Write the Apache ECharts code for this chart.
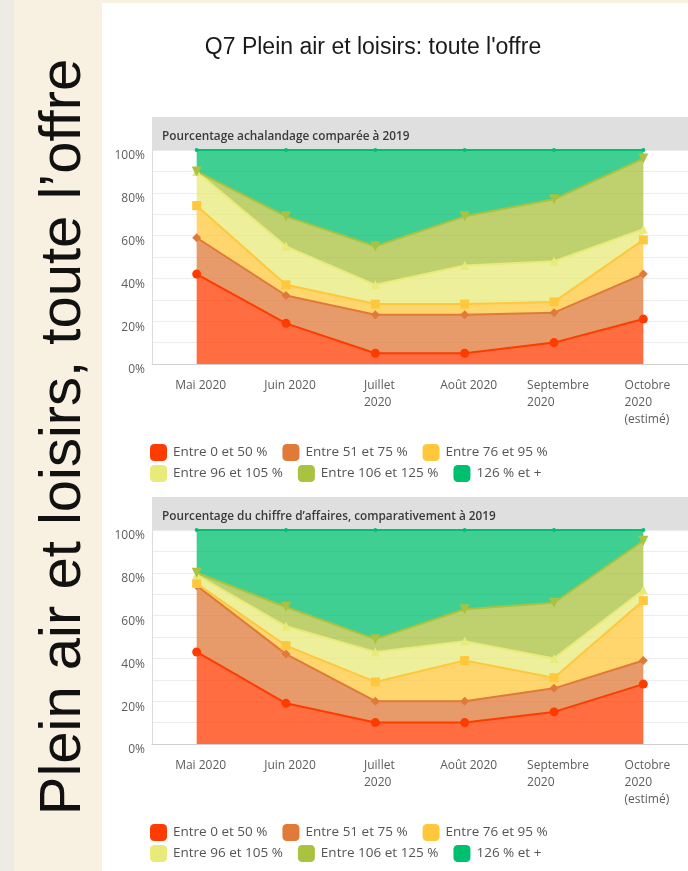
<!DOCTYPE html>
<html lang="fr">
<head>
<meta charset="utf-8">
<title>Q7 Plein air et loisirs: toute l'offre</title>
<script src="https://cdn.jsdelivr.net/npm/echarts@6/dist/echarts.min.js"></script>
<style>
  html, body { margin: 0; padding: 0; background: #f8f1e2; }
  #chart { width: 688px; height: 871px; }
</style>
</head>
<body>
<div id="chart"></div>
<script>
// Mois de la période observée
const categories = ['Mai 2020', 'Juin 2020', 'Juillet\n2020', 'Août 2020', 'Septembre\n2020', 'Octobre\n2020\n(estimé)'];

// Tranches de comparaison avec 2019
const bandNames = ['Entre 0 et 50 %', 'Entre 51 et 75 %', 'Entre 76 et 95 %', 'Entre 96 et 105 %', 'Entre 106 et 125 %', '126 % et +'];

// Pourcentage achalandage comparée à 2019 (part des répondants, %)
const achal0to50    = [42, 19, 5, 5, 10, 21];
const achal51to75   = [17, 13, 18, 18, 14, 21];
const achal76to95   = [15, 5, 5, 5, 5, 16];
const achal96to105  = [16, 18, 9, 18, 19, 5];
const achal106to125 = [0, 14, 18, 23, 29, 33];
const achal126plus  = [10, 31, 45, 31, 23, 4];

// Pourcentage du chiffre d'affaires, comparativement à 2019 (part des répondants, %)
const ca0to50    = [43, 19, 10, 10, 15, 28];
const ca51to75   = [31, 23, 10, 10, 11, 11];
const ca76to95   = [1, 4, 9, 19, 5, 28];
const ca96to105  = [4, 9, 14, 9, 9, 5];
const ca106to125 = [1, 9, 6, 15, 26, 23];
const ca126plus  = [20, 36, 51, 37, 34, 5];

// Graduations de l'axe des pourcentages
const yTicks = [0, 20, 40, 60, 80, 100];

const achalSeries = [achal0to50, achal51to75, achal76to95, achal96to105, achal106to125, achal126plus];
const caSeries = [ca0to50, ca51to75, ca76to95, ca96to105, ca106to125, ca126plus];

const bandColors = ['#ff3c00', '#e07a38', '#ffc83c', '#e8ea7a', '#a9c23f', '#00bf6f'];
const bandSymbols = ['circle', 'diamond', 'rect', 'triangle', 'triangle', 'circle'];
const bandSymbolRotate = [0, 0, 0, 0, 180, 0];
const bandSymbolSize = [9, 9, 9, 9, 10, 4];

const FONT = 'Open Sans';
const PLOT_LEFT = 152;
const PLOT_H = 214;
const panels = [
  { top: 150, header: 'Pourcentage achalandage comparée à 2019', data: achalSeries },
  { top: 530, header: 'Pourcentage du chiffre d’affaires, comparativement à 2019', data: caSeries }
];

const chart = echarts.init(document.getElementById('chart'), null, { renderer: 'canvas' });

const grids = [], xAxes = [], yAxes = [], series = [], legends = [], titles = [], graphics = [];

// Fond : bande grise, panneau crème et zone blanche
graphics.push(
  { type: 'rect', left: 0, top: 0, shape: { width: 14, height: 871 }, style: { fill: '#eeebe4' }, silent: true, z: -10 },
  { type: 'rect', left: 102, top: 3, shape: { width: 586, height: 868 }, style: { fill: '#ffffff' }, silent: true, z: -10 },
  {
    type: 'text', x: 64, y: 437, rotation: Math.PI / 2,
    style: {
      text: 'Plein air et loisirs, toute l’offre',
      font: '58px "Liberation Sans", Arial, sans-serif',
      fill: '#111111', textAlign: 'center', textVerticalAlign: 'middle'
    },
    silent: true
  }
);

titles.push({
  text: "Q7 Plein air et loisirs: toute l'offre",
  left: 368, top: 31, textAlign: 'center',
  textStyle: { fontFamily: '"Liberation Sans", Arial, sans-serif', fontSize: 23, fontWeight: 'normal', color: '#1a1a1a' }
});

panels.forEach((p, gi) => {
  // Bandeau gris de l'en-tête du graphique
  graphics.push({
    type: 'rect', left: PLOT_LEFT, top: p.top - 33,
    shape: { width: 536, height: 34 }, style: { fill: '#dfdfdf' }, silent: true, z: -5
  });
  titles.push({
    text: p.header, left: 157, top: p.top - 24,
    textStyle: { fontFamily: FONT, fontSize: 11.8, fontWeight: 600, color: '#3a3a3a' }
  });

  grids.push({ left: PLOT_LEFT, top: p.top, width: 536, height: PLOT_H, containLabel: false });

  xAxes.push({
    type: 'category', gridIndex: gi, data: categories, boundaryGap: true,
    axisTick: { show: false },
    axisLine: { lineStyle: { color: '#cfcfcf', width: 1 } },
    axisLabel: {
      interval: 0, margin: 13, color: '#5c5c5c',
      fontFamily: FONT, fontSize: 12, lineHeight: 17,
      padding: [0, 0, 0, 8],
      formatter: v => v.split('\n').map(s => '{l|' + s + '}').join('\n'),
      rich: { l: { align: 'left', fontFamily: FONT, fontSize: 12, lineHeight: 17, color: '#5c5c5c' } }
    }
  });

  yAxes.push({
    type: 'value', gridIndex: gi, min: 0, max: 100, interval: 10,
    axisLine: { show: true, lineStyle: { color: '#dcdcdc' } },
    axisTick: { show: false },
    splitLine: { lineStyle: { color: '#ececec', width: 1 } },
    axisLabel: {
      margin: 7, color: '#5c5c5c', fontFamily: FONT, fontSize: 12,
      verticalAlign: 'top',
      formatter: v => (yTicks.indexOf(v) >= 0 ? v + '%' : '')
    }
  });

  p.data.forEach((values, si) => {
    series.push({
      name: bandNames[si], type: 'line', xAxisIndex: gi, yAxisIndex: gi,
      stack: 'total' + gi, data: values,
      symbol: bandSymbols[si], symbolSize: bandSymbolSize[si], symbolRotate: bandSymbolRotate[si],
      showSymbol: true, showAllSymbol: true,
      lineStyle: { color: bandColors[si], width: 2 },
      itemStyle: { color: bandColors[si] },
      areaStyle: { color: bandColors[si], opacity: 0.75 },
      emphasis: { disabled: true },
      animation: false
    });
  });

  // Légende en deux rangées de trois tranches
  [bandNames.slice(0, 3), bandNames.slice(3)].forEach((row, ri) => {
    legends.push({
      data: row, left: 145, top: p.top + 289 + ri * 21,
      itemWidth: 17, itemHeight: 17, itemGap: 15, icon: 'roundRect',
      textStyle: { fontFamily: FONT, fontSize: 13.5, color: '#555555', padding: [0, 0, 0, 1] },
      selectedMode: false
    });
  });
});

chart.setOption({
  backgroundColor: 'transparent',
  animation: false,
  color: bandColors,
  title: titles,
  grid: grids,
  xAxis: xAxes,
  yAxis: yAxes,
  legend: legends,
  series: series,
  graphic: graphics
});
</script>
</body>
</html>
